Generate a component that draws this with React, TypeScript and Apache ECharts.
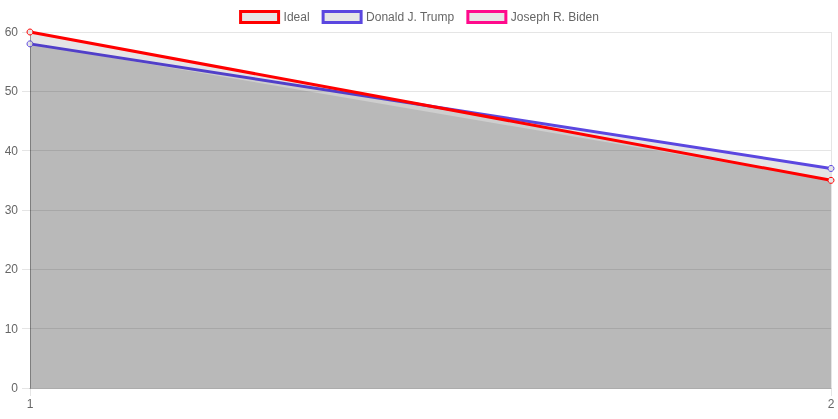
import React, { useEffect, useRef } from 'react';
import * as echarts from 'echarts';

const categories = ['1', '2'];
const idealValues = [60, 35];
const trumpValues = [58, 37];
const bidenValues = [58, 35];
const yTicks = { min: 0, max: 60, interval: 10 };

const FONT = '"Liberation Sans", Arial, Helvetica, sans-serif';
const TEXT = '#666';
const FILL = 'rgba(0,0,0,0.1)';

const App: React.FC = () => {
  const chartRef = useRef<HTMLDivElement>(null);

  useEffect(() => {
    if (!chartRef.current) return;
    const chart = echarts.init(chartRef.current, null, { renderer: 'svg' });

    const lineSeries = (name: string, data: number[], color: string, z: number, showLine = true) => ({
      name,
      type: 'line',
      data,
      z,
      smooth: false,
      showSymbol: showLine,
      symbol: 'circle',
      symbolSize: 6,
      itemStyle: { color: '#e6e6e6', borderColor: color, borderWidth: 1 },
      lineStyle: { color, width: 3, opacity: showLine ? 1 : 0 },
      areaStyle: { color: FILL, opacity: 1, origin: 'start' },
      emphasis: { disabled: true }
    });

    const legendItem = (name: string, color: string) => ({
      name,
      itemStyle: { color: '#e6e6e6', borderColor: color, borderWidth: 3, opacity: 1 }
    });

    const option: any = {
      animation: false,
      textStyle: { fontFamily: FONT },
      legend: {
        top: 5,
        left: 'center',
        icon: 'rect',
        itemWidth: 38,
        itemHeight: 11,
        itemGap: 12,
        textStyle: { color: TEXT, fontSize: 12, fontFamily: FONT },
        data: [
          legendItem('Ideal', '#ff0000'),
          legendItem('Donald J. Trump', '#5b47e0'),
          legendItem('Joseph R. Biden', '#ff0a8c')
        ]
      },
      grid: { left: 30, right: 7, top: 32, bottom: 31 },
      xAxis: {
        type: 'category',
        data: categories,
        boundaryGap: false,
        axisLine: { lineStyle: { color: 'rgba(0,0,0,0.25)' } },
        axisTick: { show: true, length: 8, lineStyle: { color: 'rgba(0,0,0,0.1)' } },
        axisLabel: { color: TEXT, fontSize: 12, margin: 10, fontFamily: FONT },
        splitLine: { show: true, lineStyle: { color: 'rgba(0,0,0,0.1)' } }
      },
      yAxis: {
        type: 'value',
        min: yTicks.min,
        max: yTicks.max,
        interval: yTicks.interval,
        axisLine: { show: true, lineStyle: { color: 'rgba(0,0,0,0.25)' } },
        axisTick: { show: true, length: 8, lineStyle: { color: 'rgba(0,0,0,0.1)' } },
        axisLabel: { color: TEXT, fontSize: 12, margin: 12, fontFamily: FONT },
        splitLine: { show: true, lineStyle: { color: 'rgba(0,0,0,0.1)' } }
      },
      series: [
        lineSeries('Ideal', idealValues, '#ff0000', 5),
        lineSeries('Donald J. Trump', trumpValues, '#5b47e0', 4),
        lineSeries('Joseph R. Biden', bidenValues, '#ff0a8c', 3, false)
      ]
    };

    chart.setOption(option);
    return () => chart.dispose();
  }, []);

  return (
    <div
      ref={chartRef}
      style={{ position: 'fixed', left: 0, top: 0, width: 838, height: 419 }}
    />
  );
};

export default App;
